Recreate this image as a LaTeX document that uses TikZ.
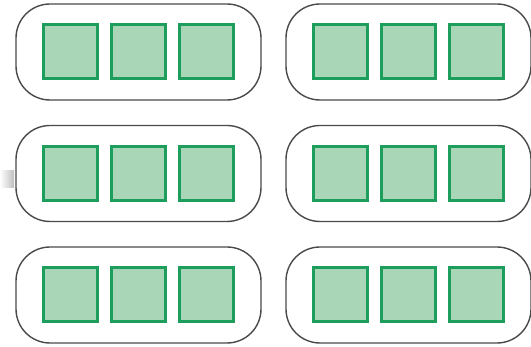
\documentclass[tikz,border=0pt]{standalone}
\usepackage{tikz}
\usetikzlibrary{positioning}
\definecolor{cellgreen}{HTML}{1E9E5C}
\definecolor{cellfill}{HTML}{A9D6B6}
\definecolor{boxgray}{HTML}{4A4A4A}

\begin{document}
\begin{tikzpicture}[x=1pt, y=-1pt,
    groupbox/.style={draw=boxgray, line width=1.4pt, rounded corners=34pt,
                     minimum width=245pt, minimum height=96pt, inner sep=0pt},
    cell/.style={draw=cellgreen, fill=cellfill, line width=3pt,
                 minimum size=54pt, inner sep=0pt},
    node distance=11pt]
  %% Canvas
  \useasboundingbox (0,0) rectangle (531,347);

  %% Faint cut-off stub on the left
  \shade[left color=white, right color=gray!50] (0,171) rectangle (14,188);

  %% Six groups of three cells
  \foreach \r/\y in {1/52,2/173.5,3/295} {
    \foreach \c/\x in {1/138.5,2/408.5} {
      \node[groupbox] (box-\r-\c) at (\x,\y) {};
      \node[cell] (cell-\r-\c-2) at (box-\r-\c) {};
      \node[cell, left=of cell-\r-\c-2] (cell-\r-\c-1) {};
      \node[cell, right=of cell-\r-\c-2] (cell-\r-\c-3) {};
    }
  }
\end{tikzpicture}
\end{document}
